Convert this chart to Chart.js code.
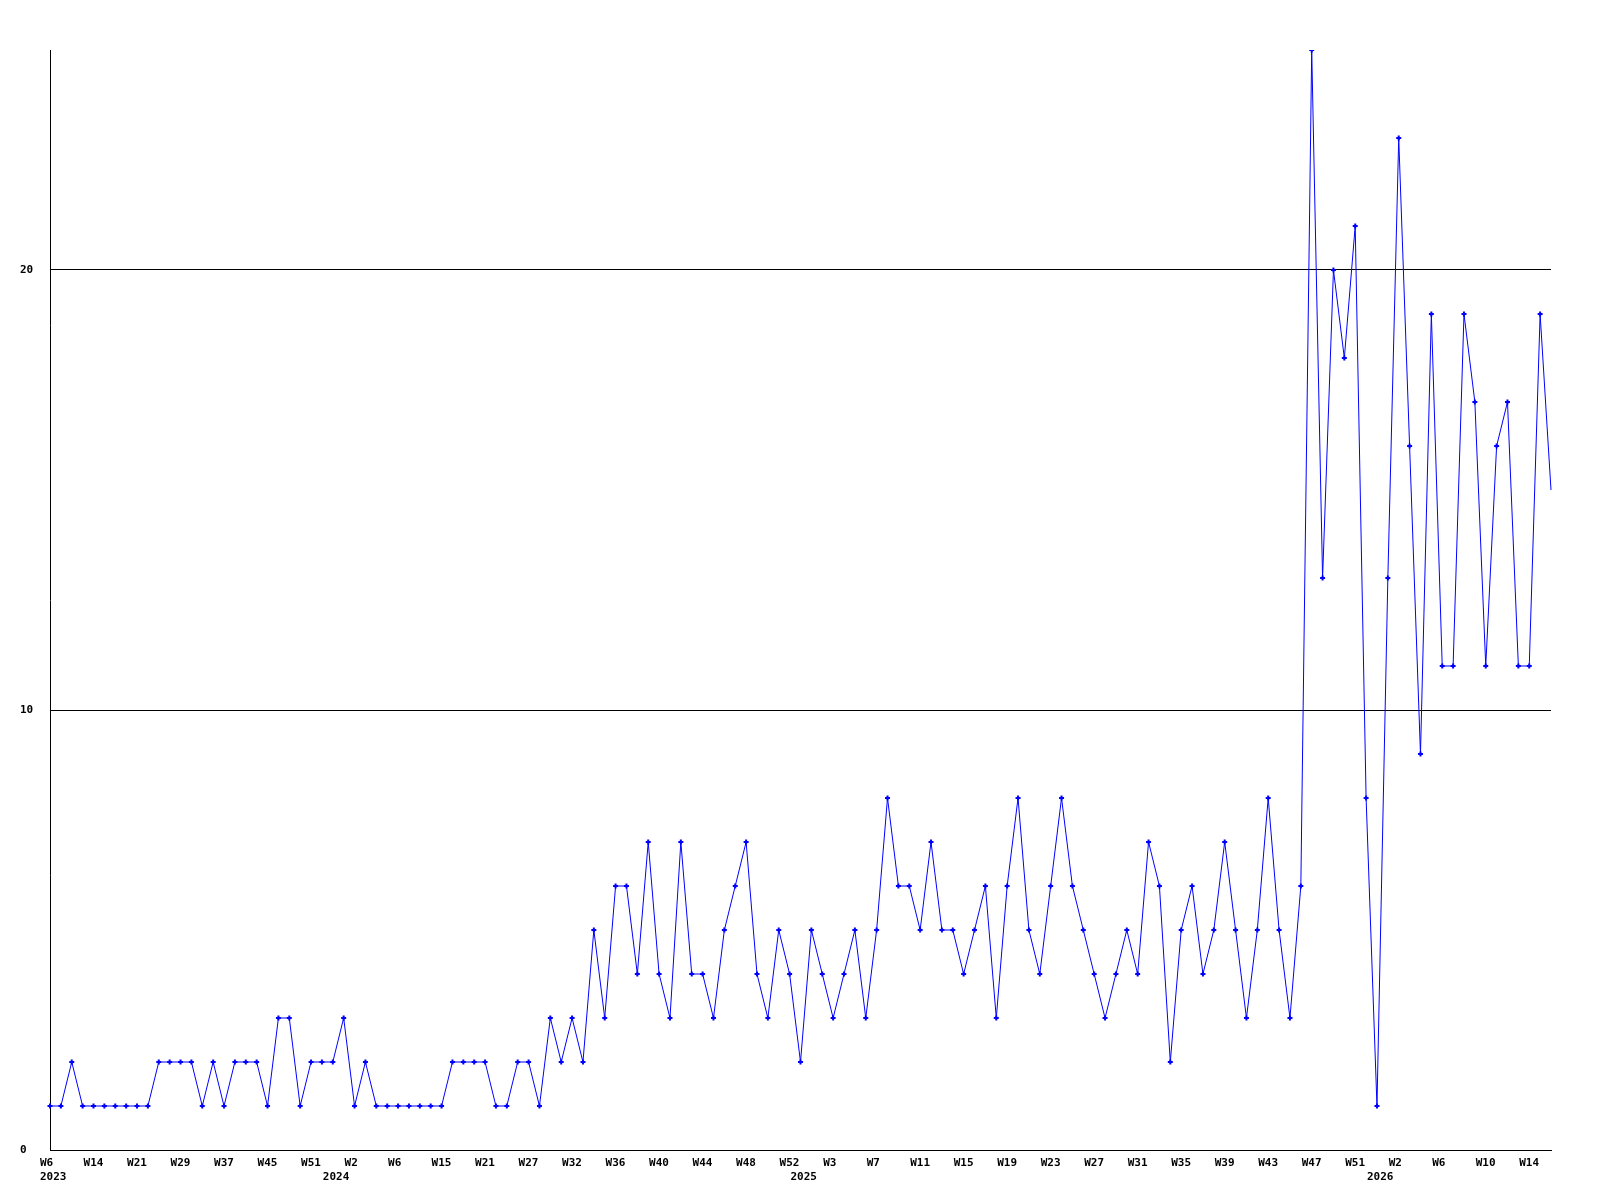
<!DOCTYPE html>
<html>
<head>
<meta charset="utf-8">
<title>Weekly count</title>
<script src="https://cdn.jsdelivr.net/npm/chart.js@4.4.1/dist/chart.umd.min.js"></script>
<style>
  html, body { margin: 0; padding: 0; background: #fff; }
  canvas { display: block; }
</style>
</head>
<body>
<canvas id="myChart" width="1600" height="1200"></canvas>
<script>
// one value per data week, oldest first
const counts = [
  1, 1, 2, 1, 1, 1, 1, 1, 1, 1,
  2, 2, 2, 2, 1, 2, 1, 2, 2, 2,
  1, 3, 3, 1, 2, 2, 2, 3, 1, 2,
  1, 1, 1, 1, 1, 1, 1, 2, 2, 2,
  2, 1, 1, 2, 2, 1, 3, 2, 3, 2,
  5, 3, 6, 6, 4, 7, 4, 3, 7, 4,
  4, 3, 5, 6, 7, 4, 3, 5, 4, 2,
  5, 4, 3, 4, 5, 3, 5, 8, 6, 6,
  5, 7, 5, 5, 4, 5, 6, 3, 6, 8,
  5, 4, 6, 8, 6, 5, 4, 3, 4, 5,
  4, 7, 6, 2, 5, 6, 4, 5, 7, 5,
  3, 5, 8, 5, 3, 6, 25, 13, 20, 18,
  21, 8, 1, 13, 23, 16, 9, 19, 11, 11,
  19, 17, 11, 16, 17, 11, 11, 19, 15
];

// week label on every 4th point
const weekTicks = [
  'W6', 'W14', 'W21', 'W29', 'W37', 'W45', 'W51',
  'W2', 'W6', 'W15', 'W21', 'W27', 'W32', 'W36', 'W40', 'W44', 'W48', 'W52',
  'W3', 'W7', 'W11', 'W15', 'W19', 'W23', 'W27', 'W31', 'W35', 'W39', 'W43', 'W47', 'W51',
  'W2', 'W6', 'W10', 'W14'
];
const tickEvery = 4;

// year label and the point where it sits
const years = ['2023', '2024', '2025', '2026'];
const yearAt = [0, 26, 69, 122];

const yTicks = [0, 10, 20];
const yMax = 25;

const labels = counts.map((v, i) => {
  const wk = (i % tickEvery === 0 && weekTicks[i / tickEvery]) ? weekTicks[i / tickEvery] : '';
  const k = yearAt.indexOf(i);
  const yr = k >= 0 ? years[k] : '';
  if (!wk && !yr) return '';
  return [wk, yr];
});

const font = { family: '"DejaVu Sans Mono", monospace', size: 11, weight: 'bold', lineHeight: 14 / 11 };
const last = counts.length - 1;

const ctx = document.getElementById('myChart').getContext('2d');
const chart = new Chart(ctx, {
  type: 'line',
  data: {
    labels: labels,
    datasets: [{
      data: counts,
      borderColor: '#0000ff',
      backgroundColor: '#0000ff',
      borderWidth: 1,
      tension: 0,
      fill: false,
      pointStyle: 'cross',
      pointRadius: c => c.dataIndex === last ? 0 : 2.5,
      pointBorderWidth: 2,
      pointBorderColor: '#0000ff'
    }]
  },
  options: {
    responsive: false,
    animation: false,
    devicePixelRatio: 1,
    layout: { padding: { top: 50, right: 49, left: 20, bottom: 0 } },
    plugins: {
      legend: { display: false },
      tooltip: { enabled: false }
    },
    scales: {
      x: {
        type: 'category',
        offset: false,
        grid: { display: false, drawTicks: false },
        border: { display: true, color: '#000', width: 1 },
        ticks: {
          autoSkip: false,
          maxRotation: 0,
          minRotation: 0,
          align: 'start',
          labelOffset: -10,
          padding: 6,
          color: '#000',
          font: font
        },
        afterFit: s => { s.height = 50; }
      },
      y: {
        min: 0,
        max: yMax,
        grid: { color: '#000', lineWidth: 1, drawTicks: false },
        border: { display: true, color: '#000', width: 1 },
        afterBuildTicks: s => { s.ticks = yTicks.map(v => ({ value: v })); },
        ticks: {
          crossAlign: 'far',
          padding: 0,
          color: '#000',
          font: font
        },
        afterFit: s => { s.width = 30; }
      }
    }
  }
});
</script>
</body>
</html>
